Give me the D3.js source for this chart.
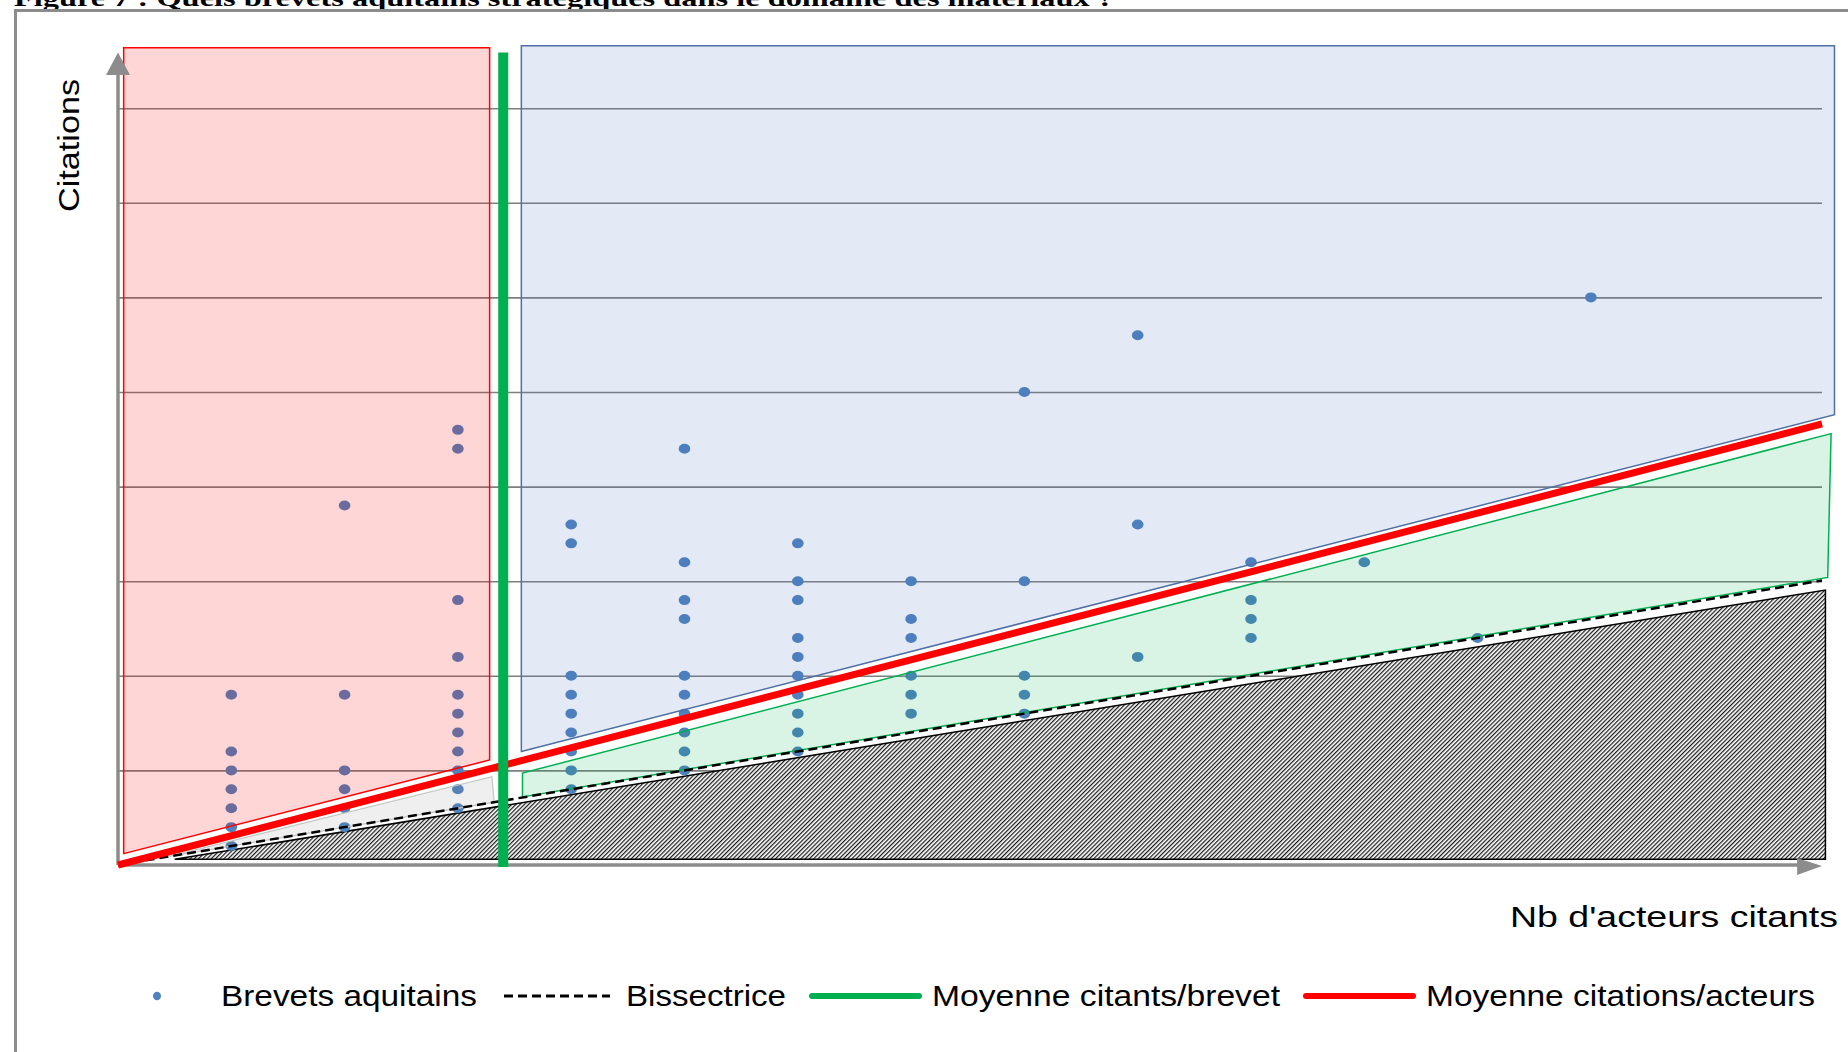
<!DOCTYPE html>
<html>
<head>
<meta charset="utf-8">
<script src="https://cdn.jsdelivr.net/npm/d3@7"></script>
<style>
  html, body { margin: 0; padding: 0; background: #fff; }
  svg { display: block; }
  text { font-family: "Liberation Sans", Arial, sans-serif; }
</style>
</head>
<body>
<svg id="chart" width="1848" height="1052"></svg>
<script>
// ---------- DATA ----------
const nbActeurs = [
  1,1,1,1,1,1,1,
  2,2,2,2,2,2,
  3,3,3,3,3,3,3,3,3,3,3,
  4,4,4,4,4,4,4,4,4,
  5,5,5,5,5,5,5,5,5,5,
  6,6,6,6,6,6,6,6,6,6,
  7,7,7,7,7,7,
  8,8,8,8,8,
  9,9,9,
  10,10,10,10,
  11,
  12,
  13
];
const citations = [
  1,2,3,4,5,6,9,
  2,3,4,5,9,19,
  3,4,5,6,7,8,9,11,14,22,23,
  4,5,6,7,8,9,10,17,18,
  5,6,7,8,9,10,13,14,16,22,
  6,7,8,9,10,11,12,14,15,17,
  8,9,10,12,13,15,
  8,9,10,15,25,
  11,18,28,
  12,13,14,16,
  16,
  12,
  30
];
const gridValues = [5, 10, 15, 20, 25, 30, 35, 40];
const xMax = 15.04;                 // end of plotted lines
const moyCitationsActeurs = 1.55;   // slope of red line
const moyCitantsBrevet = 3.40;      // green vertical line
const bissectrice = [[0, 0], [xMax, xMax]];
// annotation zones (data coordinates)
const zonePink  = [[0.05, 43.2], [3.28, 43.2], [3.28, 5.55], [0.05, 0.6]];
const zoneBlue  = [[3.56, 43.3], [15.15, 43.3], [15.15, 23.8], [3.56, 6.0]];
const zoneGreen = [[3.57, 3.6], [3.57, 4.86], [15.12, 22.8], [15.09, 15.2]];
const zoneGray  = [[0.45, 0.45], [3.30, 4.67], [3.32, 3.32]];
const zoneHatch = [[0.5, 0.3], [15.07, 14.53], [15.07, 0.3]];
const legendLabels = ["Brevets aquitains", "Bissectrice", "Moyenne citants/brevet", "Moyenne citations/acteurs"];
const titleText = "Figure 7 : Quels brevets aquitains stratégiques dans le domaine des matériaux ?";
const xLabel = "Nb d'acteurs citants";
const yLabel = "Citations";

// ---------- SCALES ----------
const svg = d3.select("#chart");
const x = d3.scaleLinear().domain([0, 15]).range([118, 118 + 15 * 113.3]);
const y = d3.scaleLinear().domain([0, 40]).range([865, 865 - 40 * 18.92]);

// pattern
const defs = svg.append("defs");
const pat = defs.append("pattern").attr("id", "hatch")
  .attr("patternUnits", "userSpaceOnUse").attr("width", 3).attr("height", 3)
  .attr("patternTransform", "rotate(45)");
pat.append("rect").attr("width", 3).attr("height", 3).attr("fill", "#fff");
pat.append("rect").attr("width", 1.25).attr("height", 3).attr("fill", "#1a1a1a");

// title (cut at top, as in the original)
svg.append("text").attr("x", 14).attr("y", 6)
  .style("font-family", "'Liberation Serif', 'Times New Roman', serif")
  .attr("font-weight", "bold").attr("font-size", 24)
  .attr("textLength", 1100).attr("lengthAdjust", "spacingAndGlyphs")
  .text(titleText);

// frame
svg.append("rect").attr("x", 15.5).attr("y", 10.5).attr("width", 1900).attr("height", 1100)
  .attr("fill", "none").attr("stroke", "#8c8c8c").attr("stroke-width", 3);

// gridlines via axis
const grid = svg.append("g").attr("transform", `translate(${x(0)},0)`)
  .call(d3.axisLeft(y).tickValues(gridValues).tickSize(-(x(xMax) - x(0))).tickFormat(""));
grid.select(".domain").remove();
grid.selectAll(".tick line").attr("stroke", "#7f7f7f").attr("stroke-width", 1.6);

const line = d3.line().x(d => x(d[0])).y(d => y(d[1]));
const poly = pts => line(pts) + "Z";

// hatched zone
svg.append("path").attr("d", poly(zoneHatch)).attr("fill", "url(#hatch)")
  .attr("stroke", "#000").attr("stroke-width", 1.5);

// points
svg.append("g").selectAll("ellipse").data(nbActeurs).join("ellipse")
  .attr("cx", (d) => x(d)).attr("cy", (d, i) => y(citations[i]))
  .attr("rx", 5.8).attr("ry", 5).attr("fill", "#4f81bd");

// translucent zones over the points
svg.append("path").attr("d", poly(zoneGray)).attr("fill", "rgba(128,128,128,0.13)")
  .attr("stroke", "#c4c4c4").attr("stroke-width", 1.2);
svg.append("path").attr("d", poly(zonePink)).attr("fill", "rgba(255,0,0,0.16)")
  .attr("stroke", "#ff0000").attr("stroke-width", 1.5);
svg.append("path").attr("d", poly(zoneBlue)).attr("fill", "rgba(68,114,196,0.15)")
  .attr("stroke", "#4f6fa5").attr("stroke-width", 1.5);
svg.append("path").attr("d", poly(zoneGreen)).attr("fill", "rgba(0,176,80,0.15)")
  .attr("stroke", "#00b050").attr("stroke-width", 1.5);

// bissectrice
svg.append("path").attr("d", line(bissectrice)).attr("fill", "none")
  .attr("stroke", "#000").attr("stroke-width", 2.5).attr("stroke-dasharray", "9,5");

// axes
const axisColor = "#8c8c8c";
svg.append("line").attr("x1", x(0)).attr("x2", x(0)).attr("y1", y(0)).attr("y2", y(41.8))
  .attr("stroke", axisColor).attr("stroke-width", 3.5);
svg.append("path").attr("d", `M${x(0)},${y(42.95)} L${x(0) - 12},${y(41.75)} L${x(0) + 12},${y(41.75)} Z`)
  .attr("fill", axisColor);
svg.append("line").attr("x1", x(0)).attr("x2", x(14.85)).attr("y1", y(0)).attr("y2", y(0))
  .attr("stroke", axisColor).attr("stroke-width", 3.5);
svg.append("path").attr("d", `M${x(15.04)},${y(0) + 1} L${x(14.82)},${y(0) - 7} L${x(14.82)},${y(0) + 10} Z`)
  .attr("fill", axisColor);

// red line
svg.append("path").attr("d", line([[0, 0], [xMax, xMax * moyCitationsActeurs]]))
  .attr("fill", "none").attr("stroke", "#ff0000").attr("stroke-width", 7);

// green vertical line
svg.append("path").attr("d", line([[moyCitantsBrevet, -0.1], [moyCitantsBrevet, 42.95]]))
  .attr("fill", "none").attr("stroke", "#00b050").attr("stroke-width", 10);

// axis titles
svg.append("text").attr("x", 1510).attr("y", 927).attr("font-size", 29)
  .attr("textLength", 328).attr("lengthAdjust", "spacingAndGlyphs").attr("fill", "#000")
  .text(xLabel);
svg.append("text").attr("transform", "translate(79,212) rotate(-90)").attr("font-size", 30)
  .attr("textLength", 133).attr("lengthAdjust", "spacingAndGlyphs").attr("fill", "#000")
  .text(yLabel);

// legend
const lgY = 996, lgBase = 1006;
svg.append("ellipse").attr("cx", 157).attr("cy", lgY).attr("rx", 4).attr("ry", 4.3).attr("fill", "#4f81bd");
svg.append("line").attr("x1", 504).attr("x2", 610).attr("y1", lgY).attr("y2", lgY)
  .attr("stroke", "#000").attr("stroke-width", 3).attr("stroke-dasharray", "9,5");
svg.append("line").attr("x1", 812).attr("x2", 919).attr("y1", lgY).attr("y2", lgY)
  .attr("stroke", "#00b050").attr("stroke-width", 6).attr("stroke-linecap", "round");
svg.append("line").attr("x1", 1306).attr("x2", 1413).attr("y1", lgY).attr("y2", lgY)
  .attr("stroke", "#ff0000").attr("stroke-width", 6).attr("stroke-linecap", "round");
const lgPos = [[221, 256], [626, 160], [932, 348], [1426, 389]];
svg.append("g").selectAll("text").data(legendLabels).join("text")
  .attr("x", (d, i) => lgPos[i][0]).attr("y", lgBase).attr("font-size", 29)
  .attr("textLength", (d, i) => lgPos[i][1]).attr("lengthAdjust", "spacingAndGlyphs")
  .attr("fill", "#000").text(d => d);
</script>
</body>
</html>
